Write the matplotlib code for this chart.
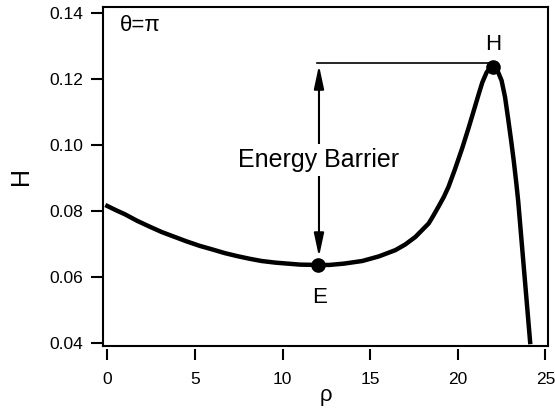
import numpy as np
import matplotlib.pyplot as plt

plt.rcParams['font.family'] = ['Liberation Sans', 'DejaVu Sans']

# energy H along rho for theta = pi
rho = [0.0, 0.5, 1.0, 1.7, 2.43, 3.1, 3.8, 4.5, 5.27, 6.0, 6.7, 7.4, 8.1,
       8.8, 9.6, 10.3, 11.0, 12.05, 12.67, 13.5, 14.55, 15.5, 16.44, 17.0,
       17.58, 18.34, 18.6, 18.9, 19.2, 19.47, 19.85, 20.25, 20.6, 20.9, 21.18,
       21.4, 21.65, 21.85, 22.03, 22.25, 22.5, 22.7, 22.88, 23.05, 23.2,
       23.35, 23.45, 24.13]
H = [0.0815, 0.0802, 0.0790, 0.0770, 0.0752, 0.0736, 0.0722, 0.0708, 0.0694,
     0.0683, 0.0672, 0.0663, 0.0655, 0.0648, 0.0643, 0.0640, 0.0637, 0.0636,
     0.0636, 0.0640, 0.0648, 0.0662, 0.0681, 0.0698, 0.0721, 0.0762, 0.0785,
     0.0813, 0.0842, 0.0873, 0.0928, 0.0990, 0.1049, 0.1102, 0.1152, 0.1190,
     0.1221, 0.1233, 0.1238, 0.1228, 0.1196, 0.1145, 0.1078, 0.1012, 0.0950,
     0.0880, 0.0829, 0.0402]

# equilibrium (E) and saddle (H) points
pt_E = (12.05, 0.0636)
pt_H = (22.03, 0.1238)
barrier_top = 0.1248

fig = plt.figure(figsize=(5.55, 4.11), dpi=100)
ax = fig.add_axes([0.1856, 0.1582, 0.8018, 0.8255])

ax.plot(rho, H, color='black', lw=3.2, solid_joinstyle='round', zorder=3)
ax.plot([pt_E[0], pt_H[0]], [pt_E[1], pt_H[1]], 'o', color='black', ms=9.5, zorder=4)

# barrier: horizontal level at H and double arrow down to E
ax.plot([11.95, pt_H[0]], [barrier_top, barrier_top], color='black', lw=1.2, zorder=2)
ax.annotate('', xy=(12.08, 0.0661), xytext=(12.08, 0.1242),
            arrowprops=dict(arrowstyle='<|-|>,head_length=1.4,head_width=0.3',
                            mutation_scale=10, color='black', lw=1.5,
                            shrinkA=0, shrinkB=0), zorder=2)
ax.text(12.08, 0.0955, 'Energy Barrier', fontsize=18, ha='center', va='center',
        bbox=dict(facecolor='white', edgecolor='none', pad=3), zorder=3)

ax.text(pt_H[0], 0.1304, 'H', fontsize=16, ha='center', va='center')
ax.text(12.12, 0.0537, 'E', fontsize=16, ha='center', va='center')
ax.text(0.038, 0.946, 'θ=π', fontsize=16, ha='left', va='center', transform=ax.transAxes)

ax.set_xlim(-0.245, 25.15)
ax.set_ylim(0.039, 0.142)
ax.set_xticks([0, 5, 10, 15, 20, 25])
ax.set_yticks([0.04, 0.06, 0.08, 0.10, 0.12, 0.14])
ax.yaxis.set_major_formatter(plt.FormatStrFormatter('%.2f'))

# frame, with the x axis standing off slightly below it
for s in ['left', 'top', 'right']:
    ax.spines[s].set_linewidth(1.5)
ax.spines['bottom'].set_position(('outward', 2.5))
ax.spines['bottom'].set_visible(False)
ax.plot([0, 1], [0, 0], color='black', lw=1.5, transform=ax.transAxes,
        clip_on=False, solid_capstyle='projecting')

ax.tick_params(axis='y', direction='out', length=8.6, width=1.5, pad=5.5, labelsize=12.5)
ax.tick_params(axis='x', direction='out', length=8, width=1.5, pad=8, labelsize=12.5)

ax.set_xlabel('ρ', fontsize=16, labelpad=-1)
ax.set_ylabel('H', fontsize=18, labelpad=12)

fig.savefig('out.png', dpi=100)
